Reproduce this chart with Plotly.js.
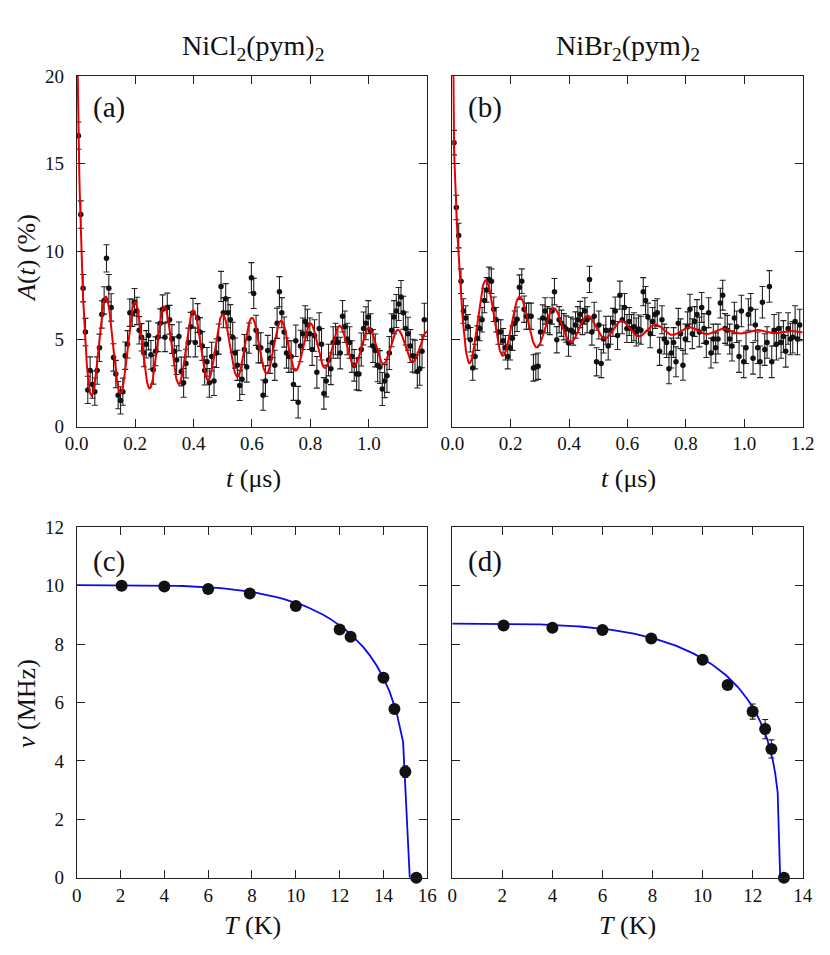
<!DOCTYPE html>
<html><head><meta charset="utf-8">
<script src="https://cdn.plot.ly/plotly-3.0.1.min.js"></script>
<style>html,body{margin:0;padding:0;background:#fff}#chart{width:830px;height:955px}</style>
</head><body><div id="chart"></div>
<script>
// ---- time grid of the muon data (μs), shared by panels (a) and (b)
const times = [
0.006,0.014,0.022,0.030,0.038,0.046,0.054,0.062,0.070,0.078,
0.086,0.094,0.102,0.110,0.118,0.126,0.134,0.142,0.150,0.158,
0.166,0.174,0.182,0.190,0.198,0.206,0.214,0.222,0.230,0.238,
0.246,0.254,0.262,0.270,0.278,0.286,0.294,0.302,0.310,0.318,
0.326,0.334,0.342,0.350,0.358,0.366,0.374,0.382,0.390,0.398,
0.406,0.414,0.422,0.430,0.438,0.446,0.454,0.462,0.470,0.478,
0.486,0.494,0.502,0.510,0.518,0.526,0.534,0.542,0.550,0.558,
0.566,0.574,0.582,0.590,0.598,0.606,0.614,0.622,0.630,0.638,
0.646,0.654,0.662,0.670,0.678,0.686,0.694,0.702,0.710,0.718,
0.726,0.734,0.742,0.750,0.758,0.766,0.774,0.782,0.790,0.798,
0.806,0.814,0.822,0.830,0.838,0.846,0.854,0.862,0.870,0.878,
0.886,0.894,0.902,0.910,0.918,0.926,0.934,0.942,0.950,0.958,
0.966,0.974,0.982,0.990,0.998,1.006,1.014,1.022,1.030,1.038,
1.046,1.054,1.062,1.070,1.078,1.086,1.094,1.102,1.110,1.118,
1.126,1.134,1.142,1.150,1.158,1.166,1.174,1.182,1.190];

// ---- (a) NiCl2(pym)2 asymmetry (%)
const asymNiCl = [
16.6,12.1,7.9,5.4,2.1,3.2,2.4,2.0,3.2,4.5,
6.4,7.2,9.6,7.9,6.8,3.95,3.0,1.8,1.5,2.0,
4.05,4.7,6.5,6.5,7.1,6.6,5.5,5.1,4.2,4.7,
5.2,4.1,3.25,4.3,5.1,5.9,6.7,5.1,6.8,6.1,
5.0,4.3,3.8,5.15,3.15,2.5,3.6,4.8,5.7,6.5,
4.8,6.2,5.4,4.6,3.2,3.7,2.5,4.0,2.6,4.2,
5.0,8.0,6.5,7.3,6.5,6.1,5.1,4.2,3.5,2.35,
2.7,4.4,3.4,5.05,8.5,7.6,5.5,4.5,4.5,1.8,
2.6,4.35,3.9,4.8,3.5,5.9,7.7,6.5,5.4,4.2,
4.0,4.0,2.4,4.9,1.4,4.6,5.3,6.0,5.8,5.3,
4.4,5.2,3.1,5.6,4.7,1.9,2.6,3.8,3.3,4.8,
5.0,4.8,4.2,6.3,5.7,5.0,4.8,4.0,3.5,3.0,
3.0,4.4,5.6,5.9,6.25,5.5,4.6,4.35,3.5,3.4,
2.15,2.6,2.9,4.2,5.5,6.25,6.6,7.0,7.4,6.5,
5.6,5.3,4.6,4.05,4.0,3.15,3.3,4.3,6.1];
const errNiCl = [
0.78,0.78,0.78,0.78,0.78,0.78,0.78,0.78,0.78,0.78,
0.78,0.78,0.78,0.78,0.78,0.78,0.78,0.78,0.78,0.78,
0.78,0.78,0.78,0.78,0.78,0.78,0.78,0.78,0.78,0.78,
0.82,0.82,0.82,0.82,0.82,0.82,0.82,0.82,0.82,0.82,
0.82,0.82,0.82,0.82,0.82,0.82,0.82,0.82,0.82,0.82,
0.82,0.82,0.82,0.82,0.82,0.82,0.82,0.82,0.82,0.82,
0.86,0.86,0.86,0.86,0.86,0.86,0.86,0.86,0.86,0.86,
0.86,0.86,0.86,0.86,0.86,0.86,0.86,0.86,0.86,0.86,
0.86,0.86,0.86,0.86,0.86,0.86,0.86,0.86,0.86,0.86,
0.90,0.90,0.90,0.90,0.90,0.90,0.90,0.90,0.90,0.90,
0.90,0.90,0.90,0.90,0.90,0.90,0.90,0.90,0.90,0.90,
0.90,0.90,0.90,0.90,0.90,0.90,0.90,0.90,0.90,0.90,
0.94,0.94,0.94,0.94,0.94,0.94,0.94,0.94,0.94,0.94,
0.94,0.94,0.94,0.94,0.94,0.94,0.94,0.94,0.94,0.94,
0.94,0.94,0.94,0.94,0.94,0.94,0.94,0.94,0.94];

// ---- (b) NiBr2(pym)2 asymmetry (%)
const asymNiBr = [
16.2,12.5,10.9,8.3,6.6,6.2,5.7,4.96,3.35,4.0,
5.05,5.6,6.1,7.2,7.8,8.4,8.3,6.7,6.1,5.4,
5.4,4.9,4.5,4.0,4.5,5.05,5.9,6.13,7.96,8.3,
6.7,6.3,6.3,6.3,3.35,3.4,3.45,5.4,6.2,6.6,
6.1,6.0,6.6,7.7,4.96,6.1,5.9,5.7,5.57,4.77,
5.5,5.4,5.8,6.1,6.4,6.0,6.6,6.1,8.4,5.4,
6.3,3.7,5.8,3.6,5.0,5.5,4.6,5.5,5.95,6.6,
5.2,7.5,6.1,6.8,5.6,6.0,5.6,5.7,5.4,5.57,
5.5,7.7,7.2,6.25,5.3,6.0,6.4,6.5,4.3,6.1,
5.0,4.8,3.3,4.2,4.8,3.7,5.9,5.3,3.5,5.0,
5.7,6.7,5.3,6.0,6.4,5.4,6.8,5.6,4.8,6.5,
4.2,5.0,4.5,5.0,7.05,7.5,5.6,5.5,5.0,4.6,
6.2,5.7,4.0,6.6,3.7,4.5,6.4,6.7,3.9,5.8,
4.5,3.7,7.1,4.4,4.8,8.0,3.7,5.5,4.7,5.6,
4.8,5.15,4.3,5.6,5.0,5.1,6.0,5.0,5.8];
const errNiBr = [
0.70,0.70,0.70,0.70,0.70,0.70,0.70,0.70,0.70,0.70,
0.70,0.70,0.70,0.70,0.70,0.70,0.70,0.70,0.70,0.70,
0.70,0.70,0.70,0.70,0.70,0.70,0.70,0.70,0.70,0.70,
0.75,0.75,0.75,0.75,0.75,0.75,0.75,0.75,0.75,0.75,
0.75,0.75,0.75,0.75,0.75,0.75,0.75,0.75,0.75,0.75,
0.75,0.75,0.75,0.75,0.75,0.75,0.75,0.75,0.75,0.75,
0.80,0.80,0.80,0.80,0.80,0.80,0.80,0.80,0.80,0.80,
0.80,0.80,0.80,0.80,0.80,0.80,0.80,0.80,0.80,0.80,
0.80,0.80,0.80,0.80,0.80,0.80,0.80,0.80,0.80,0.80,
0.85,0.85,0.85,0.85,0.85,0.85,0.85,0.85,0.85,0.85,
0.85,0.85,0.85,0.85,0.85,0.85,0.85,0.85,0.85,0.85,
0.85,0.85,0.85,0.85,0.85,0.85,0.85,0.85,0.85,0.85,
0.90,0.90,0.90,0.90,0.90,0.90,0.90,0.90,0.90,0.90,
0.90,0.90,0.90,0.90,0.90,0.90,0.90,0.90,0.90,0.90,
0.90,0.90,0.90,0.90,0.90,0.90,0.90,0.90,0.90];

// ---- (c) NiCl2(pym)2 precession frequency vs T
const tempNiCl = [2.05, 4.0, 6.0, 7.9, 10.0, 12.0, 12.5, 14.0, 14.5, 15.0, 15.5];
const freqNiCl = [10.0, 9.97, 9.89, 9.73, 9.3, 8.5, 8.25, 6.85, 5.78, 3.63, 0];
const freqErrNiCl = [0.05, 0.05, 0.05, 0.05, 0.06, 0.08, 0.08, 0.1, 0.12, 0.2, 0];

// ---- (d) NiBr2(pym)2 precession frequency vs T
const tempNiBr = [2.05, 4.0, 6.0, 7.95, 10.0, 11.0, 12.0, 12.5, 12.75, 13.25];
const freqNiBr = [8.64, 8.56, 8.48, 8.19, 7.46, 6.6, 5.69, 5.09, 4.41, 0];
const freqErrNiBr = [0.05, 0.05, 0.05, 0.05, 0.08, 0.1, 0.26, 0.33, 0.31, 0];

// ---- fitted model parameters
const fitNiCl = {base: 4.58, slowAmp: 0, slowRate: 0, osc: 3.16, nu: 10.0, lam: 1.1, fast1: 16, rate1: 90, fast2: 0, rate2: 0};
const fitNiBr = {base: 5.35, slowAmp: 0.9, slowRate: 2.5, osc: 3.44, nu: 8.6, lam: 3.45, fast1: 7.6, rate1: 55, fast2: 10, rate2: 340};
const orderNiCl = {nu0: 10.02, Tc: 15.2, alpha: 4.0, beta: 0.3, n: 51};
const orderNiBr = {nu0: 8.7, Tc: 13.1, alpha: 3.5, beta: 0.3, n: 132};

function asymFit(p) {
  const xs = [], ys = [];
  for (let i = 0; i <= 800; i++) {
    const t = i * 1.2 / 800;
    xs.push(t);
    ys.push(p.base + p.slowAmp * Math.exp(-p.slowRate * t)
      + p.osc * Math.exp(-p.lam * t) * Math.cos(2 * Math.PI * p.nu * t)
      + p.fast1 * Math.exp(-p.rate1 * t) + p.fast2 * Math.exp(-p.rate2 * t));
  }
  return {xs, ys};
}
function orderFit(p) {
  const xs = [], ys = [];
  for (let i = 0; i < p.n; i++) {
    const T = i * p.Tc / (p.n - 1);
    xs.push(T);
    const r = 1 - Math.pow(T / p.Tc, p.alpha);
    ys.push(r > 0 ? p.nu0 * Math.pow(r, p.beta) : 0);
  }
  return {xs, ys};
}

const RED = '#e60000', BLUE = '#0a0ae8', INK = '#111';
const fA = asymFit(fitNiCl), fB = asymFit(fitNiBr);
const fC = orderFit(orderNiCl), fD = orderFit(orderNiBr);

function dataTrace(x, y, e, xa, ya, size, clip) {
  return {x: x, y: y, type: 'scatter', mode: 'markers', xaxis: xa, yaxis: ya,
    marker: {color: INK, size: size},
    error_y: {type: 'data', array: e, visible: true, color: '#222', thickness: 1.1, width: 3},
    cliponaxis: clip};
}
function lineTrace(f, xa, ya, color, w) {
  return {x: f.xs, y: f.ys, type: 'scatter', mode: 'lines', xaxis: xa, yaxis: ya,
    line: {color: color, width: w}, hoverinfo: 'skip'};
}

const traces = [
  dataTrace(times, asymNiCl, errNiCl, 'x', 'y', 5.5, true),
  lineTrace(fA, 'x', 'y', RED, 2),
  dataTrace(times, asymNiBr, errNiBr, 'x2', 'y2', 5.5, true),
  lineTrace(fB, 'x2', 'y2', RED, 2),
  lineTrace(fC, 'x3', 'y3', BLUE, 1.8),
  dataTrace(tempNiCl, freqNiCl, freqErrNiCl, 'x3', 'y3', 12, false),
  lineTrace(fD, 'x4', 'y4', BLUE, 1.8),
  dataTrace(tempNiBr, freqNiBr, freqErrNiBr, 'x4', 'y4', 12, false)
];

const FONT = 'Liberation Serif';
function axis(extra) {
  return Object.assign({showline: true, linecolor: '#222', linewidth: 1, mirror: 'allticks',
    ticks: 'inside', ticklen: 8, tickwidth: 1, tickcolor: '#222', showgrid: false, zeroline: false,
    tickfont: {family: FONT, size: 19, color: INK}, fixedrange: true}, extra);
}
const XL = [0.0924, 0.5148], XR = [0.5449, 0.9671];
const YT = [0.5532, 0.9204], YB = [0.0809, 0.4479];

const layout = {
  width: 830, height: 955, margin: {l: 0, r: 0, t: 0, b: 0},
  paper_bgcolor: '#fff', plot_bgcolor: '#fff', showlegend: false,
  font: {family: FONT, color: INK, size: 19},
  xaxis: axis({domain: XL, anchor: 'y', range: [0, 1.2], tickvals: [0, 0.2, 0.4, 0.6, 0.8, 1.0, 1.2], ticktext: ['0.0', '0.2', '0.4', '0.6', '0.8', '1.0', '']}),
  yaxis: axis({domain: YT, anchor: 'x', range: [0, 20], tickvals: [0, 5, 10, 15, 20], ticklabelstandoff: 8}),
  xaxis2: axis({domain: XR, anchor: 'y2', range: [0, 1.2], tickvals: [0, 0.2, 0.4, 0.6, 0.8, 1.0, 1.2], ticktext: ['0.0', '0.2', '0.4', '0.6', '0.8', '1.0', '1.2']}),
  yaxis2: axis({domain: YT, anchor: 'x2', range: [0, 20], tickvals: [0, 5, 10, 15, 20], showticklabels: false}),
  xaxis3: axis({domain: XL, anchor: 'y3', range: [0, 16], tickvals: [0, 2, 4, 6, 8, 10, 12, 14, 16]}),
  yaxis3: axis({domain: YB, anchor: 'x3', range: [0, 12], tickvals: [0, 2, 4, 6, 8, 10, 12], ticklabelstandoff: 8}),
  xaxis4: axis({domain: XR, anchor: 'y4', range: [0, 14], tickvals: [0, 2, 4, 6, 8, 10, 12, 14]}),
  yaxis4: axis({domain: YB, anchor: 'x4', range: [0, 12], tickvals: [0, 2, 4, 6, 8, 10, 12], showticklabels: false}),
  annotations: []
};
function ann(text, px, py, size, angle) {
  layout.annotations.push({text: text, xref: 'paper', yref: 'paper', x: px / 830, y: 1 - py / 955,
    xanchor: 'center', yanchor: 'middle', showarrow: false, textangle: angle || 0,
    font: {family: FONT, size: size, color: INK}});
}
ann('NiCl<sub>2</sub>(pym)<sub>2</sub>', 253, 47, 28);
ann('NiBr<sub>2</sub>(pym)<sub>2</sub>', 628, 47, 28);
ann('(a)', 109, 108, 29);
ann('(b)', 485, 108, 29);
ann('(c)', 109, 561, 29);
ann('(d)', 485, 561, 29);
ann('<i>t</i> (μs)', 253, 478, 26);
ann('<i>t</i> (μs)', 628, 478, 26);
ann('<i>T</i> (K)', 252, 925, 26);
ann('<i>T</i> (K)', 627, 925, 26);
ann('<i>A</i>(<i>t</i>) (%)', 26, 258, 26, -90);
ann('<i>ν</i> (MHz)', 26, 704, 26, -90);

Plotly.newPlot('chart', traces, layout, {staticPlot: true, displayModeBar: false});
</script></body></html>
